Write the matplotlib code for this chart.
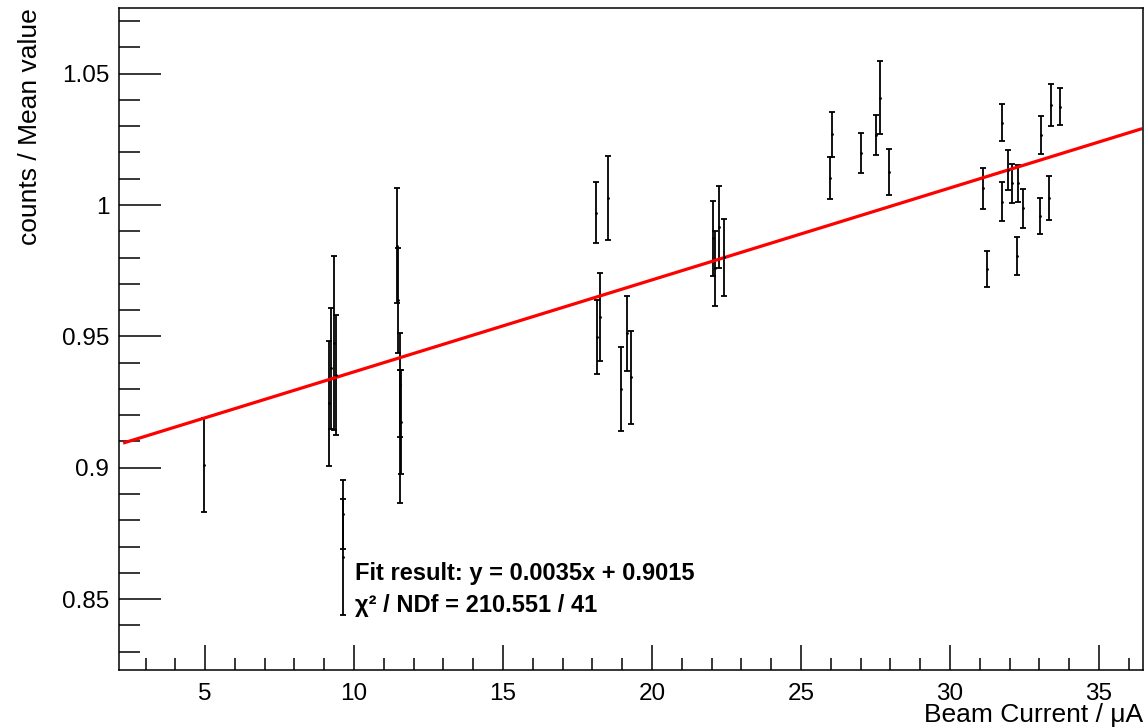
import matplotlib
matplotlib.use('Agg')
import matplotlib.pyplot as plt
import numpy as np
from matplotlib.ticker import MultipleLocator

plt.rcParams['font.family'] = ['Liberation Sans', 'DejaVu Sans']

# beam current (uA), normalised counts, error
current = [4.96,
           9.16, 9.22, 9.33, 9.39, 9.63, 9.64,
           11.45, 11.49, 11.54, 11.55, 11.56,
           18.12, 18.14, 18.26, 18.53, 18.96, 19.15, 19.30,
           22.06, 22.11, 22.26, 22.42,
           25.97, 26.05, 27.01, 27.52, 27.66, 27.96,
           31.12, 31.26, 31.74, 31.75, 31.94, 32.09, 32.26, 32.27, 32.44,
           33.03, 33.07, 33.33, 33.38, 33.69]
ratio = [0.901,
         0.9245, 0.9378, 0.9475, 0.9352, 0.8823, 0.8661,
         0.9845, 0.9637, 0.9314, 0.9118, 0.9175,
         0.9971, 0.9498, 0.9575, 1.0026, 0.930, 0.9511, 0.9344,
         0.9873, 0.9759, 0.9917, 0.9801,
         1.0102, 1.0269, 1.0197, 1.0267, 1.0409, 1.0127,
         1.0063, 0.9757, 1.0013, 1.0314, 1.0133, 1.0083, 0.9806, 1.0083, 0.9987,
         0.9959, 1.0267, 1.0028, 1.0381, 1.0375]
ratio_err = [0.018,
             0.0239, 0.0229, 0.0332, 0.0229, 0.0132, 0.0220,
             0.0219, 0.0200, 0.0197, 0.0254, 0.0197,
             0.0117, 0.0141, 0.0168, 0.0159, 0.016, 0.0141, 0.0176,
             0.0144, 0.0143, 0.0155, 0.0147,
             0.0080, 0.0086, 0.0077, 0.0076, 0.0138, 0.0088,
             0.0079, 0.0068, 0.0075, 0.0069, 0.0076, 0.0074, 0.0073, 0.0070, 0.0074,
             0.0069, 0.0072, 0.0084, 0.0080, 0.0071]

# fit result shown in the plot
slope = 0.0035
offset = 0.9015
chi2 = 210.551
ndf = 41

fig = plt.figure(figsize=(11.47, 7.28), dpi=100)
ax = fig.add_axes([119/1147, 1-670/728, 1024/1147, 662/728])

ax.errorbar(current, ratio, yerr=ratio_err, fmt='.', color='black', ms=2,
            elinewidth=1.3, capsize=2.3, capthick=1.3)

xf = np.array([2.3, 36.4])
ax.plot(xf, slope*xf + offset, color='red', lw=2.3)

ax.set_xlim(2.11, 36.48)
ax.set_ylim(0.823, 1.075)

ax.xaxis.set_major_locator(MultipleLocator(5))
ax.xaxis.set_minor_locator(MultipleLocator(1))
ax.yaxis.set_major_locator(MultipleLocator(0.05))
ax.yaxis.set_minor_locator(MultipleLocator(0.01))
ax.set_yticks([0.85, 0.9, 0.95, 1.0, 1.05])
ax.set_yticklabels(['0.85', '0.9', '0.95', '1', '1.05'])

ax.tick_params(axis='both', which='both', direction='in', width=1.1,
               labelsize=17.5, top=False, right=False)
ax.tick_params(axis='y', which='major', length=30, pad=7)
ax.tick_params(axis='y', which='minor', length=15)
ax.tick_params(axis='x', which='major', length=18, pad=9)
ax.tick_params(axis='x', which='minor', length=9)
for s in ax.spines.values():
    s.set_linewidth(1.1)

fig.text(1143/1147, 1-722/728, 'Beam Current / μA', ha='right', va='baseline', fontsize=19)
fig.text(30/1147, 1-8/728, 'counts / Mean value', rotation=90, ha='center', va='top', fontsize=19)

ax.text(0.2305, 0.136, 'Fit result: y = %.4fx + %.4f' % (slope, offset),
        transform=ax.transAxes, fontsize=17, fontweight='bold')
ax.text(0.2305, 0.088, 'χ² / NDf = %.3f / %d' % (chi2, ndf),
        transform=ax.transAxes, fontsize=17, fontweight='bold')

fig.savefig('out.png', dpi=100)
